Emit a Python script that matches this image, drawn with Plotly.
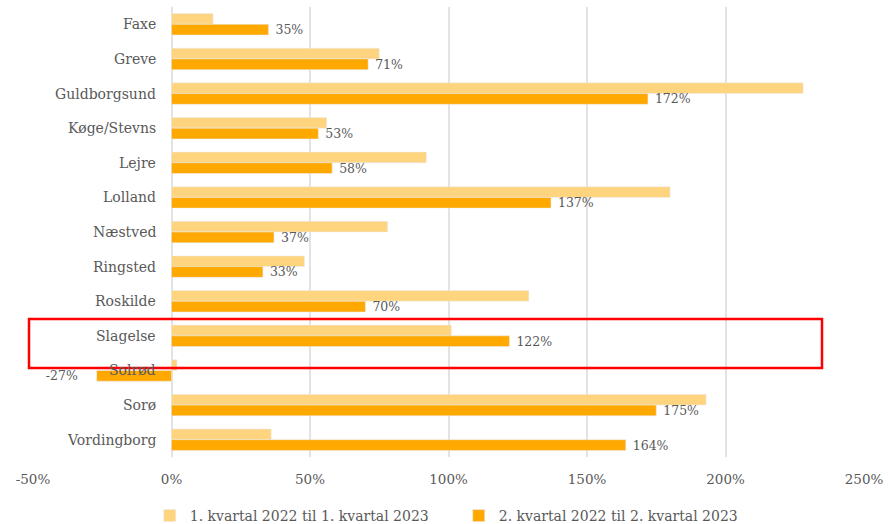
import plotly.graph_objects as go

categories = ["Faxe", "Greve", "Guldborgsund", "Køge/Stevns", "Lejre", "Lolland", "Næstved",
              "Ringsted", "Roskilde", "Slagelse", "Solrød", "Sorø", "Vordingborg"]
q1_values = [15, 75, 228, 56, 92, 180, 78, 48, 129, 101, 2, 193, 36]
q2_values = [35, 71, 172, 53, 58, 137, 37, 33, 70, 122, -27, 175, 164]
q2_labels = [f" {v}%" if v >= 0 else f"{v}%    " for v in q2_values]
tick_vals = [-50, 0, 50, 100, 150, 200, 250]
tick_text = ["-50%", "0%", "50%", "100%", "150%", "200%", "250%"]
series_names = ["1. kvartal 2022 til 1. kvartal 2023", "2. kvartal 2022 til 2. kvartal 2023"]

FONT = "DejaVu Serif"
GRAY = "#595959"

fig = go.Figure()
fig.add_trace(go.Bar(y=categories, x=q1_values, orientation="h", name=series_names[0],
                     marker=dict(color="#FFD47F"), hoverinfo="x+y"))
fig.add_trace(go.Bar(y=categories, x=q2_values, orientation="h", name=series_names[1],
                     marker=dict(color="#FFA800"), text=q2_labels, textposition="outside",
                     cliponaxis=False, constraintext="none",
                     textfont=dict(family=FONT, size=12.5, color=GRAY)))

for c in categories:
    fig.add_annotation(x=0, y=c, xref="x", yref="y", text=c, showarrow=False,
                       xanchor="right", xshift=-14, yshift=0,
                       font=dict(family=FONT, size=14, color=GRAY))

fig.add_shape(type="rect", xref="paper", yref="paper",
              x0=(29 - 33) / (889 - 33 - 25), x1=(822 - 33) / (889 - 33 - 25),
              y0=(457 - 368) / 450, y1=(457 - 319) / 450,
              line=dict(color="#FF0000", width=2.5), fillcolor="rgba(0,0,0,0)")

fig.update_layout(
    width=889, height=524,
    margin=dict(l=33, r=25, t=7, b=67),
    plot_bgcolor="white", paper_bgcolor="white",
    barmode="group", bargap=0.38, bargroupgap=0,
    font=dict(family=FONT, size=13, color=GRAY),
    showlegend=True,
    legend=dict(orientation="h", x=0.516, xanchor="center", xref="container",
                y=(524 - 516) / 524, yanchor="middle", yref="container",
                font=dict(family=FONT, size=14, color=GRAY), itemwidth=30,
                entrywidth=264, traceorder="normal"),
    xaxis=dict(range=[-50, 250], tickvals=tick_vals, ticktext=tick_text,
               showgrid=True, gridcolor="#E3E3E3", gridwidth=1.5, zeroline=True,
               zerolinecolor="#E3E3E3", zerolinewidth=1.5, showline=False,
               ticks="", ticklabelstandoff=12, automargin=False,
               tickfont=dict(family=FONT, size=13.5, color=GRAY)),
    yaxis=dict(categoryorder="array", categoryarray=categories, autorange="reversed",
               showticklabels=False, showgrid=False, zeroline=False, showline=False, ticks="",
               automargin=False),
)

fig.write_html("out.html", post_script="document.body.style.margin='0';",
               config={"displayModeBar": False})
